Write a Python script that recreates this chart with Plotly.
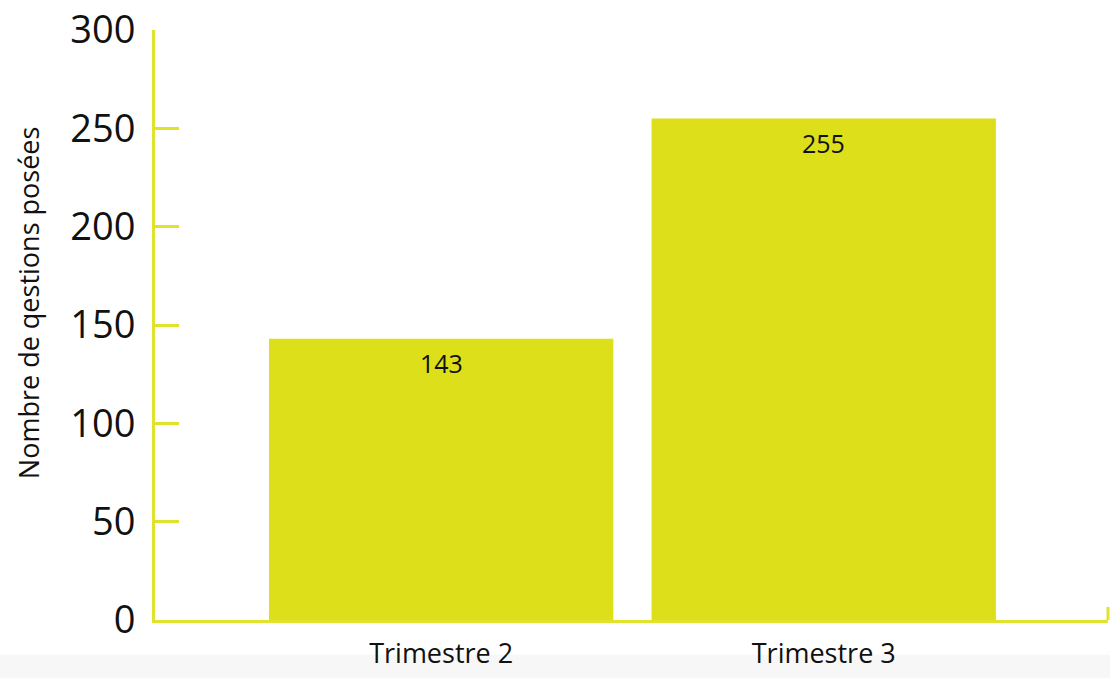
import plotly.graph_objects as go

categories = ["Trimestre 2", "Trimestre 3"]
values = [143, 255]
y_ticks = [0, 50, 100, 150, 200, 250, 300]
y_title = "Nombre de qestions posées"

BAR = "#dddf1a"
AXIS = "#e0e22c"
FONT = "Open Sans, Noto Sans, sans-serif"

fig = go.Figure()
fig.add_trace(go.Bar(x=categories, y=values, marker=dict(color=BAR, line=dict(width=0)),
                     hoverinfo="skip"))

for c, v in zip(categories, values):
    fig.add_annotation(x=c, y=v, text=str(v), showarrow=False, yanchor="top", yshift=-5,
                       font=dict(size=25, color="#111111", family=FONT))

# y-axis title placed as an annotation (slightly above the plot centre, as in the reference)
fig.add_annotation(xref="paper", yref="paper", x=-0.1333, y=0.537, text=y_title,
                   textangle=-90, showarrow=False, xanchor="center", yanchor="middle",
                   font=dict(size=27, family=FONT, color="#111111"))

# light gray strip at the bottom of the page
fig.add_shape(type="rect", xref="paper", yref="paper", x0=-0.2, x1=1.1, y0=-0.0591, y1=-0.1,
              fillcolor="#f7f7f7", line=dict(width=0), layer="below")
# small end tick on the right of the x axis
fig.add_shape(type="line", xref="paper", yref="paper", x0=1, x1=1, y0=0, y1=0.022,
              line=dict(color=AXIS, width=3))

fig.update_layout(
    width=1110, height=678,
    margin=dict(l=155, r=2, t=28, b=58),
    paper_bgcolor="white", plot_bgcolor="white",
    showlegend=False, bargap=0.1,
    font=dict(family=FONT, color="#111111"),
)
fig.update_xaxes(type="category", range=[-0.748, 1.743], showgrid=False, zeroline=False,
                 showline=True, linecolor=AXIS, linewidth=3,
                 ticks="outside", ticklen=8, tickcolor="rgba(0,0,0,0)",
                 tickfont=dict(size=27, family=FONT, color="#111111"))
fig.update_yaxes(range=[0, 300], tickvals=y_ticks, showgrid=False, zeroline=False,
                 showline=True, linecolor=AXIS, linewidth=3,
                 ticks="inside", ticklen=24, tickwidth=3, tickcolor=AXIS,
                 ticklabelstandoff=9,
                 tickfont=dict(size=38, family=FONT, color="#111111"))

fig.write_html("out.html")
